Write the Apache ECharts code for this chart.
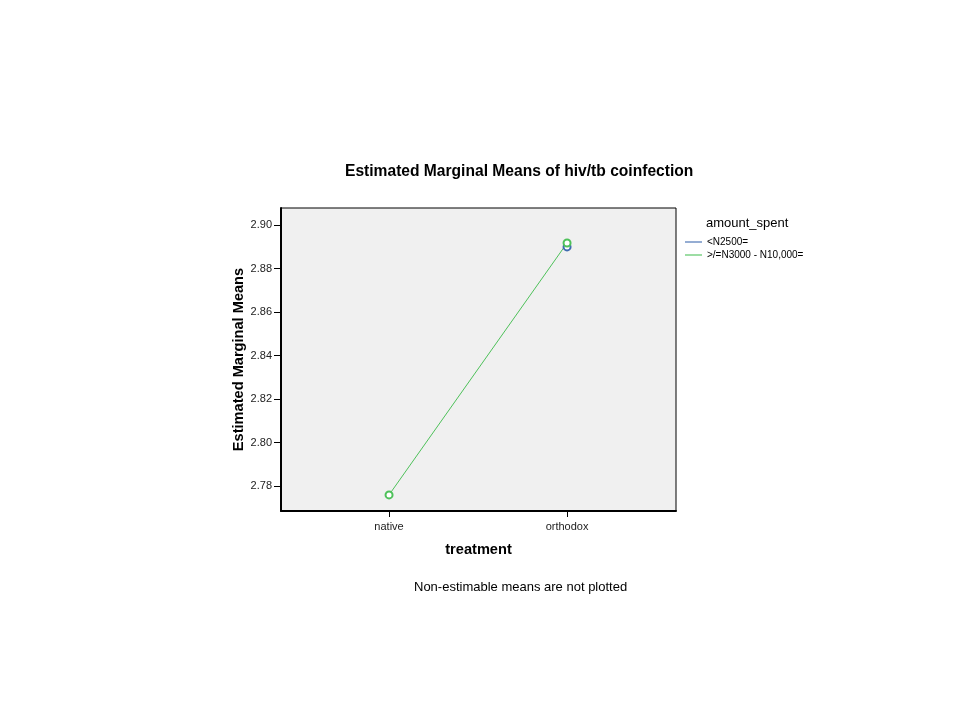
<!DOCTYPE html>
<html>
<head>
<meta charset="utf-8">
<script src="https://cdn.jsdelivr.net/npm/echarts@6/dist/echarts.min.js"></script>
<style>html,body{margin:0;padding:0;background:#fff}#c{width:960px;height:720px}</style>
</head>
<body>
<div id="c"></div>
<script>
const categories = ['native', 'orthodox'];
const seriesNames = ['<N2500=', '>/=N3000 - N10,000='];
const lowSpend = [null, 2.8899];
const highSpend = [2.7759, 2.8917];
const yTicks = [2.78, 2.80, 2.82, 2.84, 2.86, 2.88, 2.90];
const xTicks = [0, 1];

const toPairs = arr => arr.map((v, i) => [i, v]).filter(p => p[1] !== null);
const font = 'Liberation Sans, Arial, sans-serif';
const chart = echarts.init(document.getElementById('c'), null, {renderer: 'canvas'});
chart.setOption({
  animation: false,
  backgroundColor: '#fff',
  title: [
    {text: 'Estimated Marginal Means of hiv/tb coinfection', left: 340, top: 159,
     textStyle: {fontFamily: font, fontSize: 15.6, fontWeight: 'bold', color: '#000'}},
    {text: 'amount_spent', left: 701, top: 212, padding: 5,
     textStyle: {fontFamily: font, fontSize: 13, fontWeight: 'normal', color: '#000'}},
    {text: 'Non-estimable means are not plotted', left: 409, top: 576,
     textStyle: {fontFamily: font, fontSize: 13, fontWeight: 'normal', color: '#000'}}
  ],
  legend: {
    orient: 'vertical', left: 685, top: 237, itemGap: 3, padding: 0,
    itemWidth: 17, itemHeight: 10, icon: 'path://M0,4L20,4L20,5.3L0,5.3Z',
    textStyle: {fontFamily: font, fontSize: 10, color: '#000'},
    data: seriesNames
  },
  grid: {left: 281, top: 208, width: 395, height: 303, show: true,
         backgroundColor: '#f0f0f0', borderColor: '#000', borderWidth: 1},
  xAxis: {
    type: 'value', min: -0.607, max: 1.612,
    name: 'treatment', nameLocation: 'middle', nameGap: 31,
    nameTextStyle: {fontFamily: font, fontSize: 14.6, fontWeight: 'bold', color: '#000'},
    axisLine: {show: true, onZero: false, lineStyle: {color: '#000', width: 2}},
    axisTick: {show: true, length: 6, customValues: xTicks, lineStyle: {color: '#000'}},
    axisLabel: {customValues: xTicks, formatter: v => categories[Math.round(v)] || '',
                fontFamily: font, fontSize: 11, color: '#222', margin: 10},
    splitLine: {show: false}
  },
  yAxis: {
    type: 'value', min: 2.7685, max: 2.9078,
    name: 'Estimated Marginal Means', nameLocation: 'middle', nameGap: 28,
    nameTextStyle: {fontFamily: font, fontSize: 14.6, fontWeight: 'bold', color: '#000'},
    axisLine: {show: true, onZero: false, lineStyle: {color: '#000', width: 2}},
    axisTick: {show: true, length: 7, customValues: yTicks, lineStyle: {color: '#000'}},
    axisLabel: {customValues: yTicks, formatter: v => v.toFixed(2),
                fontFamily: font, fontSize: 11, color: '#222', margin: 9},
    splitLine: {show: false}
  },
  series: [
    {name: seriesNames[0], type: 'line', data: toPairs(lowSpend),
     symbol: 'emptyCircle', symbolSize: 7, color: '#3e6bb0',
     lineStyle: {width: 1}, itemStyle: {borderWidth: 1}},
    {name: seriesNames[1], type: 'line', data: toPairs(highSpend),
     symbol: 'emptyCircle', symbolSize: 7, color: '#4ec15a',
     lineStyle: {width: 1}, itemStyle: {borderWidth: 1}}
  ]
});
</script>
</body>
</html>
